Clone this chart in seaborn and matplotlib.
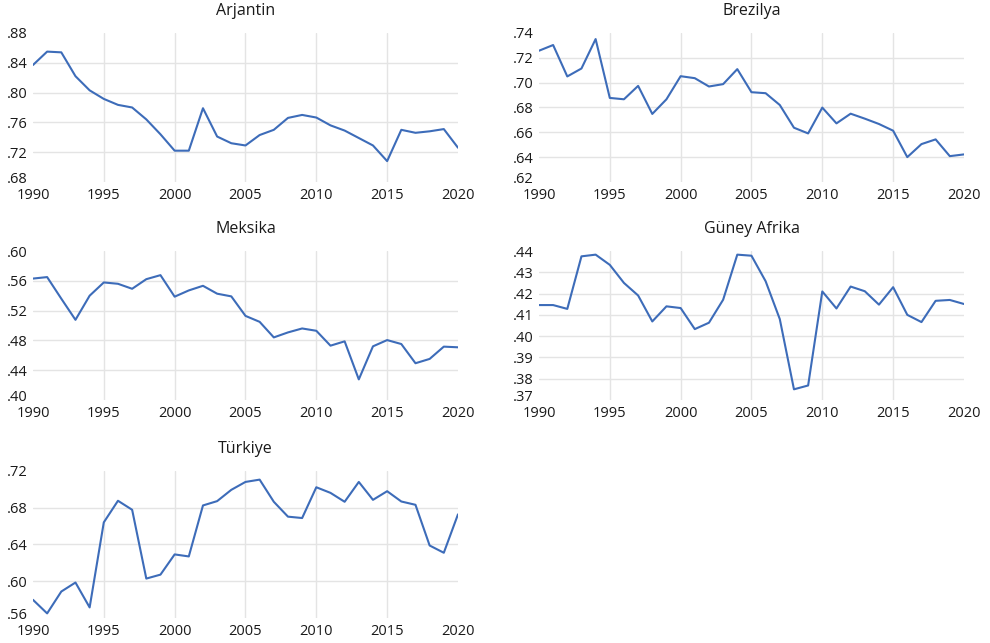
import matplotlib
matplotlib.use("Agg")
import matplotlib.pyplot as plt
import matplotlib.ticker as mticker
import matplotlib.transforms as mtransforms
import numpy as np
import pandas as pd
import seaborn as sns

# data
years = list(range(1990, 2021))

arjantin = [0.837, 0.855, 0.854, 0.822, 0.803, 0.7915, 0.7835, 0.780, 0.764, 0.744,
            0.722, 0.722, 0.779, 0.741, 0.732, 0.729, 0.743, 0.750, 0.766, 0.770,
            0.7665, 0.756, 0.749, 0.739, 0.729, 0.708, 0.750, 0.746, 0.748, 0.751, 0.726]

brezilya = [0.7257, 0.7303, 0.705, 0.7114, 0.7351, 0.6877, 0.6866, 0.6974, 0.6748, 0.6866,
            0.7052, 0.7036, 0.6969, 0.6988, 0.7109, 0.6923, 0.6915, 0.682, 0.6637, 0.6591,
            0.6799, 0.6672, 0.675, 0.671, 0.6667, 0.6613, 0.640, 0.6505, 0.6543, 0.6408, 0.6422]

meksika = [0.563, 0.565, 0.536, 0.5076, 0.540, 0.5578, 0.556, 0.5493, 0.5622, 0.5676,
           0.5387, 0.5471, 0.5533, 0.5427, 0.5391, 0.5129, 0.5049, 0.484, 0.4907, 0.496,
           0.4929, 0.4729, 0.4787, 0.4276, 0.472, 0.4804, 0.4751, 0.4493, 0.4551, 0.4716, 0.4707]

guney_afrika = [0.4146, 0.4146, 0.4128, 0.4375, 0.4383, 0.4335, 0.425, 0.4191, 0.4069, 0.414,
                0.4132, 0.4033, 0.4063, 0.4171, 0.4383, 0.4378, 0.4258, 0.408, 0.375, 0.3768,
                0.421, 0.413, 0.4233, 0.4211, 0.4148, 0.423, 0.410, 0.4066, 0.4166, 0.417, 0.4151]

turkiye = [0.5798, 0.565, 0.5888, 0.5986, 0.5715, 0.6641, 0.6876, 0.6778, 0.6029, 0.6072,
           0.6292, 0.627, 0.6825, 0.6872, 0.6995, 0.7081, 0.7106, 0.6865, 0.6703, 0.6688,
           0.7023, 0.6962, 0.6865, 0.7081, 0.6886, 0.698, 0.6868, 0.6832, 0.6389, 0.631, 0.6728]

titles = ["Arjantin", "Brezilya", "Meksika", "Güney Afrika", "Türkiye"]
series = [arjantin, brezilya, meksika, guney_afrika, turkiye]
y_limits = [(0.68, 0.88), (0.62, 0.74), (0.40, 0.60), (0.37, 0.44), (0.56, 0.72)]
y_steps = [0.04, 0.02, 0.04, 0.01, 0.04]

# axes rectangles in figure fraction (left, bottom, width, height)
positions = [
    (0.0333, 0.717, 0.4293, 0.2317),
    (0.5444, 0.717, 0.4293, 0.2317),
    (0.0333, 0.378, 0.4293, 0.2316),
    (0.5444, 0.378, 0.4293, 0.2316),
    (0.0333, 0.0389, 0.4293, 0.2286),
]

sns.set_style("white")
plt.rcParams["font.family"] = ["Open Sans", "DejaVu Sans"]

LINE_COLOR = "#3d6cb9"
GRID_COLOR = "#e4e4e4"
TEXT_COLOR = "#1a1a1a"


def dot_fmt(v, pos):
    return ("%.2f" % v).lstrip("0")


fig = plt.figure(figsize=(9.9, 6.43), dpi=100)
nudge_up = mtransforms.ScaledTranslation(0, 3 / 72, fig.dpi_scale_trans)

for title, vals, lim, step, rect in zip(titles, series, y_limits, y_steps, positions):
    ax = fig.add_axes(rect)
    df = pd.DataFrame({"year": years, "value": vals})
    sns.lineplot(data=df, x="year", y="value", ax=ax, color=LINE_COLOR, linewidth=1.5)

    ax.set_xlim(1990, 2020)
    ax.set_ylim(*lim)
    ax.set_xticks(range(1990, 2021, 5))
    ax.set_yticks(np.arange(lim[0], lim[1] + step / 2, step))
    ax.yaxis.set_major_formatter(mticker.FuncFormatter(dot_fmt))

    ax.grid(True, color=GRID_COLOR, linewidth=1.0)
    ax.set_axisbelow(True)
    # no gridlines on the frame edges
    for gl in [ax.get_xgridlines()[0], ax.get_xgridlines()[-1],
               ax.get_ygridlines()[0], ax.get_ygridlines()[-1]]:
        gl.set_visible(False)

    for s in ax.spines.values():
        s.set_visible(False)
    ax.tick_params(axis="both", length=0, labelsize=10.5, colors=TEXT_COLOR)
    ax.tick_params(axis="x", pad=4.5)
    ax.tick_params(axis="y", pad=4)
    # lowest y label nudged up a touch so it clears the year labels
    low = ax.get_yticklabels()[0]
    low.set_transform(low.get_transform() + nudge_up)
    ax.set_xlabel("")
    ax.set_ylabel("")
    ax.set_title(title, fontsize=11.5, pad=13, color=TEXT_COLOR)

fig.savefig("out.png", dpi=100)
